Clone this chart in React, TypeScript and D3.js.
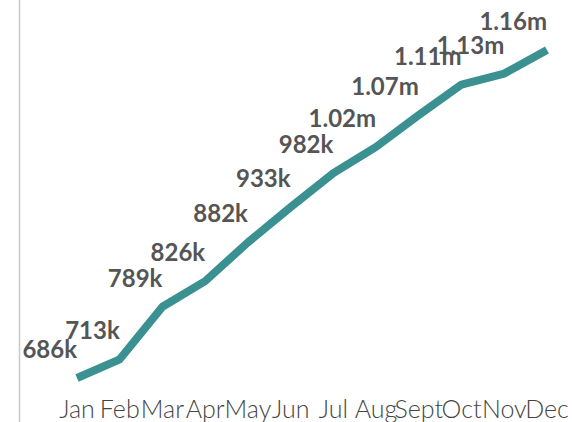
import React, { useRef, useEffect } from "react";
import * as d3 from "d3";

const months = ["Jan", "Feb", "Mar", "Apr", "May", "Jun", "Jul", "Aug", "Sept", "Oct", "Nov", "Dec"];
const totals = [686000, 713000, 789000, 826000, 882000, 933000, 982000, 1020000, 1066000, 1110000, 1126000, 1160000];

const fmt = (v: number) =>
  v >= 1e6 ? `${(v / 1e6).toFixed(2)}m` : `${Math.round(v / 1e3)}k`;

export default function App() {
  const svgRef = useRef<SVGSVGElement>(null);

  useEffect(() => {
    const width = 572;
    const height = 422;

    const svg = d3.select(svgRef.current);
    svg.selectAll("*").remove();
    svg.attr("width", width).attr("height", height);

    const x = d3.scalePoint<string>().domain(months).range([77, 547]);
    const y = d3.scaleLinear().domain([686000, 1160000]).range([378, 50]);

    // left axis line
    svg
      .append("line")
      .attr("x1", 19.5)
      .attr("x2", 19.5)
      .attr("y1", 0)
      .attr("y2", height)
      .style("stroke", "#c8c8c8")
      .style("stroke-width", 1.5);

    const line = d3
      .line<number>()
      .x((_, i) => x(months[i])!)
      .y((d) => y(d));

    svg
      .append("path")
      .datum(totals)
      .attr("d", line)
      .style("fill", "none")
      .style("stroke", "#3b9191")
      .style("stroke-width", 8)
      .style("stroke-linejoin", "round");

    // value labels
    svg
      .append("g")
      .selectAll("text")
      .data(totals)
      .join("text")
      .attr("x", (_, i) => x(months[i])!)
      .attr("y", (d) => y(d) - 20)
      .attr("text-anchor", "end")
      .style("font-family", "Lato")
      .style("font-weight", 700)
      .style("font-size", "24px")
      .style("fill", "#555555")
      .text((d) => fmt(d));

    // month labels
    svg
      .append("g")
      .selectAll("text")
      .data(months)
      .join("text")
      .attr("x", (d) => x(d)!)
      .attr("y", 418)
      .attr("text-anchor", "middle")
      .style("font-family", "Lato")
      .style("font-weight", 300)
      .style("font-size", "25px")
      .style("fill", "#444444")
      .text((d) => d);
  }, []);

  return (
    <div style={{ position: "absolute", left: 0, top: 0 }}>
      <svg ref={svgRef}></svg>
    </div>
  );
}
